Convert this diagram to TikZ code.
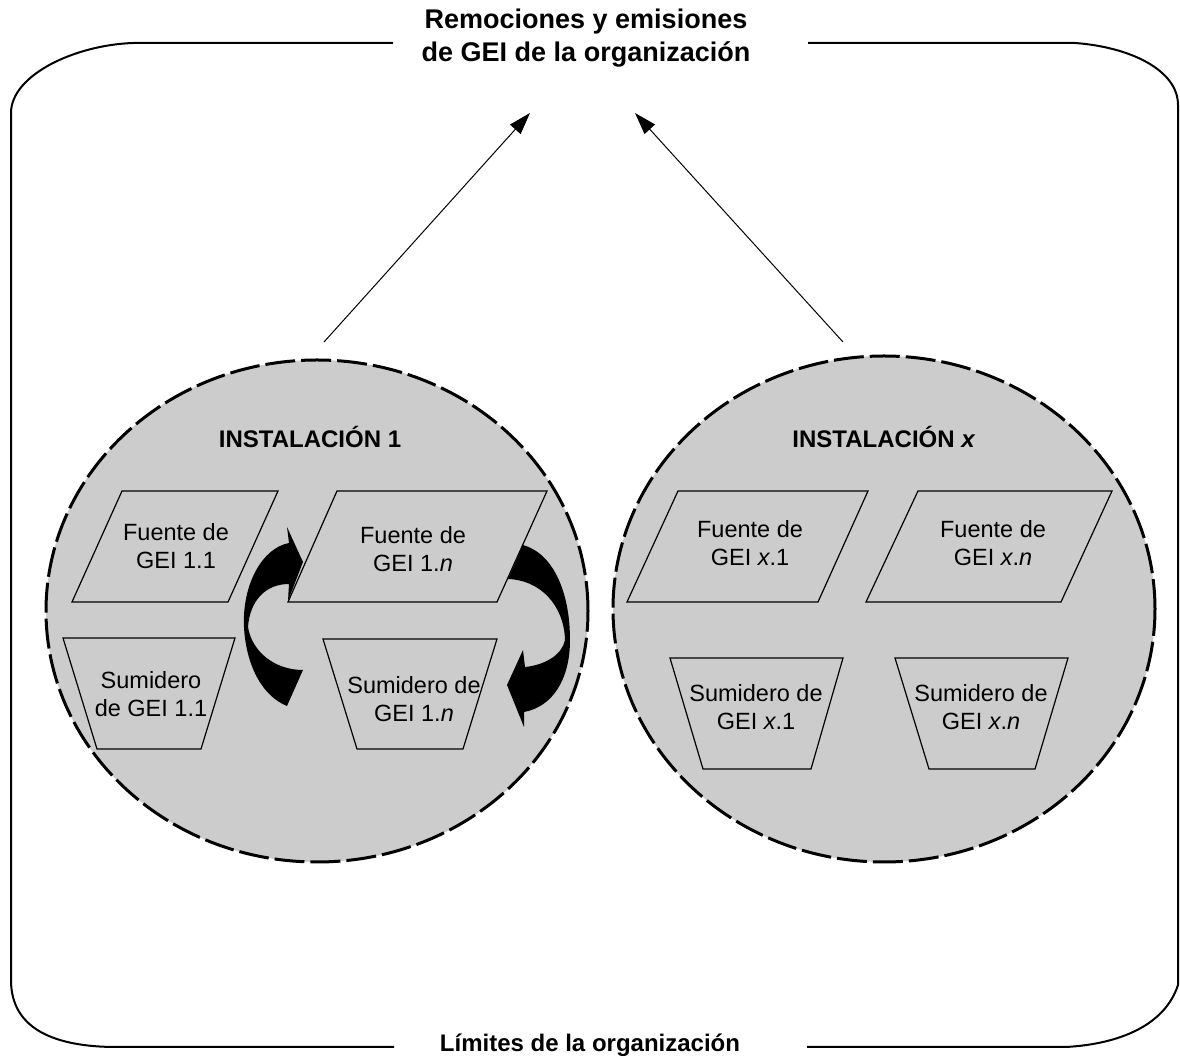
\documentclass[tikz,border=0pt]{standalone}
\usepackage{fontspec}
\setmainfont{Liberation Sans}
\usetikzlibrary{arrows.meta,shapes.geometric}
\definecolor{shade}{gray}{0.80}
\begin{document}
\begin{tikzpicture}[x=0.5pt,y=-0.5pt,
  lbl/.style={font=\fontsize{11.75}{14}\selectfont, align=center, inner sep=0pt},
  title/.style={font=\fontsize{12}{17}\selectfont\bfseries, align=center, inner sep=0pt},
  bigtitle/.style={font=\fontsize{13.5}{16.5}\selectfont\bfseries, align=center, inner sep=0pt},
  frame/.style={line width=1pt},
  inst/.style={ellipse, fill=shade, draw=black, line width=1.5pt, dash pattern=on 15pt off 3pt, inner sep=0pt},
  box/.style={fill=shade, draw=black, line width=0.6pt, line join=miter},
  flow/.style={line width=0.5pt, -{Triangle[length=11pt,width=7pt]}},
  curl/.style={fill=black}]
\useasboundingbox (0,0) rectangle (1180,1058);

% organisation frame
\draw[frame] (393,43) -- (133,43) .. controls (75,45) and (11,75) .. (11,113) -- (11,980)
  .. controls (11,1020) and (40,1046) .. (113,1047) -- (394,1047);
\draw[frame] (808,43) -- (1075,43) .. controls (1130,47) and (1178,70) .. (1178,105) -- (1178,985)
  .. controls (1165,1025) and (1120,1044) .. (1066,1047) -- (807,1047);

% installations
\node[inst, minimum width=271pt, minimum height=251pt] (inst1) at (317,611) {};
\node[inst, minimum width=271pt, minimum height=253pt] (instx) at (884,609) {};

% sources and sinks
\draw[box] (122,491) -- (278,491) -- (228,602) -- (72,602) -- cycle;
\draw[box] (337,491) -- (547,491) -- (497,602) -- (288,602) -- cycle;
\draw[box] (63,638) -- (235,638) -- (201,749) -- (97,749) -- cycle;
\draw[box] (323,639) -- (497,639) -- (463,749) -- (357,749) -- cycle;
\draw[box] (678,491) -- (868,491) -- (818,602) -- (627,602) -- cycle;
\draw[box] (918,491) -- (1112,491) -- (1061,602) -- (866,602) -- cycle;
\draw[box] (670,658) -- (843,658) -- (811,769) -- (703,769) -- cycle;
\draw[box] (895,658) -- (1068,658) -- (1035,769) -- (929,769) -- cycle;

% curved arrows
\fill[curl] (244,627) .. controls (242,585) and (262,548) .. (289,543) -- (287,527) -- (303,562)
  -- (288,601) -- (289,584) .. controls (266,584) and (250,600) .. (248,627)
  .. controls (252,652) and (275,670) .. (303,670) -- (287,706)
  .. controls (262,696) and (246,665) .. (244,627) -- cycle;
\fill[curl] (508,579) -- (523,545) .. controls (552,553) and (570,590) .. (570,640)
  .. controls (570,680) and (552,707) .. (524,712) -- (524,727) -- (507,685) -- (523,650)
  -- (525,667) .. controls (545,665) and (562,655) .. (565,640)
  .. controls (564,605) and (540,580) .. (508,579) -- cycle;

% texts
\node[bigtitle] (top) at (586,38) {Remociones y emisiones\\de GEI de la organización};
\node[title] (lim) at (590,1045) {Límites de la organización};
\node[title] (t1) at (310,437) {INSTALACIÓN 1};
\node[title] (tx) at (884,437) {INSTALACIÓN \textit{x}};

\node[lbl] (f11) at (176,546) {Fuente de\\GEI 1.1};
\node[lbl] (f1n) at (413,549) {Fuente de\\GEI 1.\textit{n}};
\node[lbl] (s11) at (151,694) {Sumidero\\de GEI 1.1};
\node[lbl] (s1n) at (414,699) {Sumidero de\\GEI 1.\textit{n}};
\node[lbl] (fx1) at (750,543) {Fuente de\\GEI \textit{x}.1};
\node[lbl] (fxn) at (993,543) {Fuente de\\GEI \textit{x}.\textit{n}};
\node[lbl] (sx1) at (756,707) {Sumidero de\\GEI \textit{x}.1};
\node[lbl] (sxn) at (981,707) {Sumidero de\\GEI \textit{x}.\textit{n}};

% flows to the organisation total
\coordinate (a1) at (324,342);
\coordinate (b1) at (530,113);
\coordinate (a2) at (843,342);
\coordinate (b2) at (635,113);
\draw[flow] (a1) -- (b1);
\draw[flow] (a2) -- (b2);
\end{tikzpicture}
\end{document}
